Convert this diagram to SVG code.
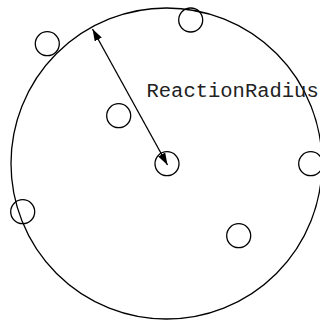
<svg xmlns="http://www.w3.org/2000/svg" width="320" height="322" viewBox="0 0 320 322">
<defs>
<style>
.c{fill:none;stroke:#000;stroke-width:1.3}
.t{font-family:"Liberation Mono","DejaVu Sans Mono",monospace;font-size:20.5px;fill:#222}
</style>
<marker id="ah" viewBox="0 0 12 8" refX="12" refY="4" markerWidth="12" markerHeight="8" markerUnits="userSpaceOnUse" orient="auto-start-reverse">
<path d="M0,0 L12,4 L0,8 Z" fill="#000"/>
</marker>
</defs>
<rect width="320" height="322" fill="#fff"/>
<g id="reaction-sphere"><circle class="c" cx="166.5" cy="163.5" r="155.5"/></g>
<g id="p-top"><circle class="c" cx="190.7" cy="20" r="12"/></g>
<g id="p-upper-left"><circle class="c" cx="47.3" cy="43.7" r="12"/></g>
<g id="p-inner"><circle class="c" cx="118.7" cy="115.7" r="12"/></g>
<g id="p-center"><circle class="c" cx="167" cy="163.7" r="12"/></g>
<g id="p-right"><circle class="c" cx="310.7" cy="163.7" r="12"/></g>
<g id="p-left"><circle class="c" cx="22.7" cy="211.7" r="12"/></g>
<g id="p-lower-right"><circle class="c" cx="238.7" cy="235.7" r="12"/></g>
<g id="connectors">
<line x1="92.5" y1="29" x2="167.5" y2="165" stroke="#000" stroke-width="1.3" marker-start="url(#ah)" marker-end="url(#ah)"/>
</g>
<g id="label"><text class="t" x="146.5" y="97">ReactionRadius</text></g>
</svg>
